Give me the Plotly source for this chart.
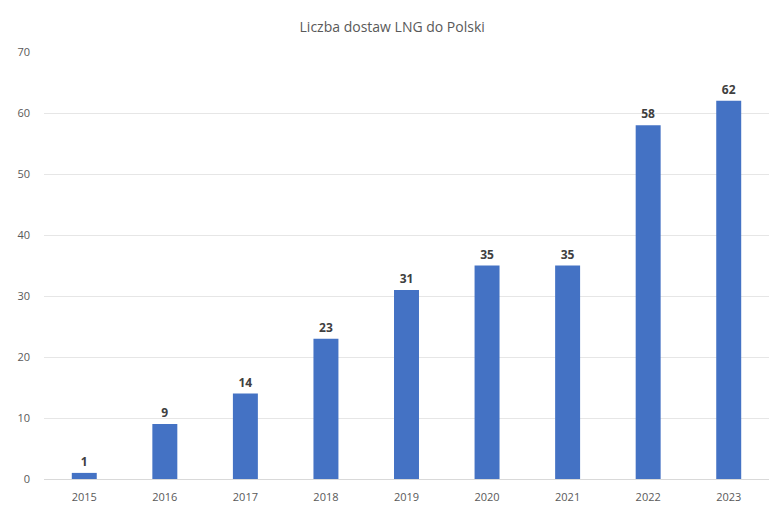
import plotly.graph_objects as go

years = ["2015", "2016", "2017", "2018", "2019", "2020", "2021", "2022", "2023"]
deliveries = [1, 9, 14, 23, 31, 35, 35, 58, 62]
y_ticks = [0, 10, 20, 30, 40, 50, 60, 70]

FONT = "Open Sans, Liberation Sans, sans-serif"

fig = go.Figure(go.Bar(
    x=years, y=deliveries,
    marker=dict(color="#4472C4", line=dict(width=0)),
    width=0.31,
    text=[str(v) for v in deliveries],
    textposition="outside",
    textfont=dict(family=FONT, size=12, color="#404040", weight="bold"),
    cliponaxis=False,
))

fig.update_layout(
    width=769, height=508,
    margin=dict(l=44, r=0, t=52, b=29),
    paper_bgcolor="white", plot_bgcolor="white",
    title=dict(text="Liczba dostaw LNG do Polski", x=0.51, xanchor="center", y=0.947, yanchor="middle",
               font=dict(family=FONT, size=14, color="#595959")),
    showlegend=False,
)
fig.update_xaxes(
    type="category", showgrid=False, showline=True, linecolor="#d9d9d9", linewidth=1,
    ticks="", ticklabelstandoff=8,
    tickfont=dict(family=FONT, size=11, color="#595959"),
)
fig.update_yaxes(
    range=[0, 70], tickvals=y_ticks, showgrid=True, gridcolor="#e6e6e6", gridwidth=1,
    zeroline=False, showline=False, ticks="", ticklabelstandoff=13,
    tickfont=dict(family=FONT, size=11, color="#595959"),
)

fig.write_html("out.html")
